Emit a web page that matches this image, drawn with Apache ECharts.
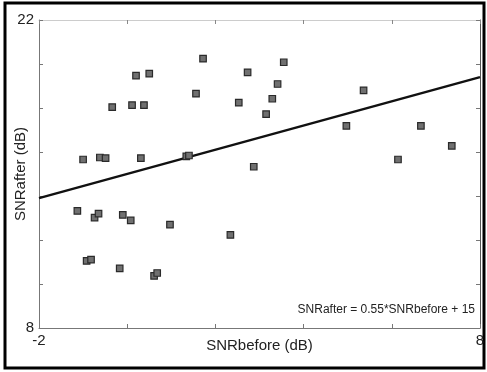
<!DOCTYPE html>
<html>
<head>
<meta charset="utf-8">
<script src="https://cdn.jsdelivr.net/npm/echarts@6/dist/echarts.min.js"></script>
<style>
  html, body { margin: 0; padding: 0; background: #fff; }
  #chart { width: 487px; height: 372px; }
</style>
</head>
<body>
<div id="chart"></div>
<script>
// scatter points: [SNRbefore, SNRafter]
const points = [
  [-1.00, 15.66], [-0.62, 15.75], [-0.49, 15.72], [-0.34, 18.04], [0.11, 18.13],
  [0.38, 18.13], [0.20, 19.47], [0.50, 19.56], [0.31, 15.72], [1.34, 15.80],
  [1.40, 15.84], [1.72, 20.24], [1.56, 18.65], [2.53, 18.24], [2.73, 19.62],
  [3.55, 20.08], [3.41, 19.09], [3.29, 18.42], [3.15, 17.72], [2.87, 15.33],
  [4.97, 17.19], [5.36, 18.80], [6.66, 17.19], [6.14, 15.66], [7.36, 16.28],
  [-1.13, 13.32], [-0.74, 13.02], [-0.65, 13.20], [-0.10, 13.14], [0.08, 12.89],
  [0.97, 12.70], [2.34, 12.23], [-0.92, 11.05], [-0.82, 11.11], [-0.17, 10.71],
  [0.61, 10.37], [0.68, 10.50]
]
// fitted line endpoints, y = 0.55*x + 15
const fitLine = [[-2, 13.9], [8, 19.4]]
const xRange = [-2, 8]
const yRange = [8, 22]
const fitLabel = 'SNRafter = 0.55*SNRbefore + 15'

const font = 'Liberation Sans, Arial, sans-serif'
const endsOnly = (min, max) => v => (v === min || v === max) ? String(v) : ''

const myChart = echarts.init(document.getElementById('chart'))

const option = {
  animation: false,
  textStyle: { fontFamily: font },
  grid: { left: 39, right: 7, top: 20, bottom: 44, containLabel: false, outerBoundsMode: 'none' },
  xAxis: [
    {
      type: 'value', min: xRange[0], max: xRange[1], interval: 2,
      name: 'SNRbefore (dB)', nameLocation: 'middle', nameGap: 10, nameMoveOverlap: false,
      nameTextStyle: { fontSize: 15, color: '#222', fontFamily: font },
      axisLine: { onZero: false, lineStyle: { color: '#777', width: 1 } },
      axisTick: { inside: true, length: 4, lineStyle: { color: '#777' } },
      axisLabel: { formatter: endsOnly(-2, 8), fontSize: 15, color: '#222', margin: 5 },
      splitLine: { show: false }
    },
    {
      type: 'value', position: 'top', min: xRange[0], max: xRange[1], interval: 2,
      axisLine: { onZero: false, lineStyle: { color: '#ccc', width: 1 } },
      axisTick: { inside: true, length: 4, lineStyle: { color: '#888' } },
      axisLabel: { show: false },
      splitLine: { show: false }
    }
  ],
  yAxis: [
    {
      type: 'value', min: yRange[0], max: yRange[1], interval: 2,
      name: 'SNRafter (dB)', nameLocation: 'middle', nameGap: 11, nameMoveOverlap: false,
      nameTextStyle: { fontSize: 15, color: '#222', fontFamily: font },
      axisLine: { onZero: false, lineStyle: { color: '#777', width: 1 } },
      axisTick: { inside: true, length: 4, lineStyle: { color: '#777' } },
      axisLabel: { formatter: endsOnly(8, 22), fontSize: 15, color: '#222', margin: 5 },
      splitLine: { show: false }
    },
    {
      type: 'value', position: 'right', min: yRange[0], max: yRange[1], interval: 2,
      axisLine: { onZero: false, lineStyle: { color: '#555', width: 1 } },
      axisTick: { inside: true, length: 4, lineStyle: { color: '#777' } },
      axisLabel: { show: false },
      splitLine: { show: false }
    }
  ],
  series: [
    {
      type: 'line',
      data: fitLine,
      symbol: 'none',
      lineStyle: { color: '#111', width: 2.4 },
      z: 2
    },
    {
      type: 'scatter',
      data: points,
      symbol: 'rect',
      symbolSize: 6.5,
      itemStyle: { color: '#707070', borderColor: '#2a2a2a', borderWidth: 1.2, opacity: 1 },
      z: 3
    }
  ],
  graphic: [
    {
      type: 'text', right: 12, top: 304,
      style: { text: fitLabel, font: '12px ' + font, fill: '#222' }
    },
    {
      type: 'rect',
      shape: { x: 5, y: 3, width: 479, height: 365 },
      style: { fill: 'none', stroke: '#000', lineWidth: 3 },
      silent: true
    }
  ]
}

myChart.setOption(option)
</script>
</body>
</html>
